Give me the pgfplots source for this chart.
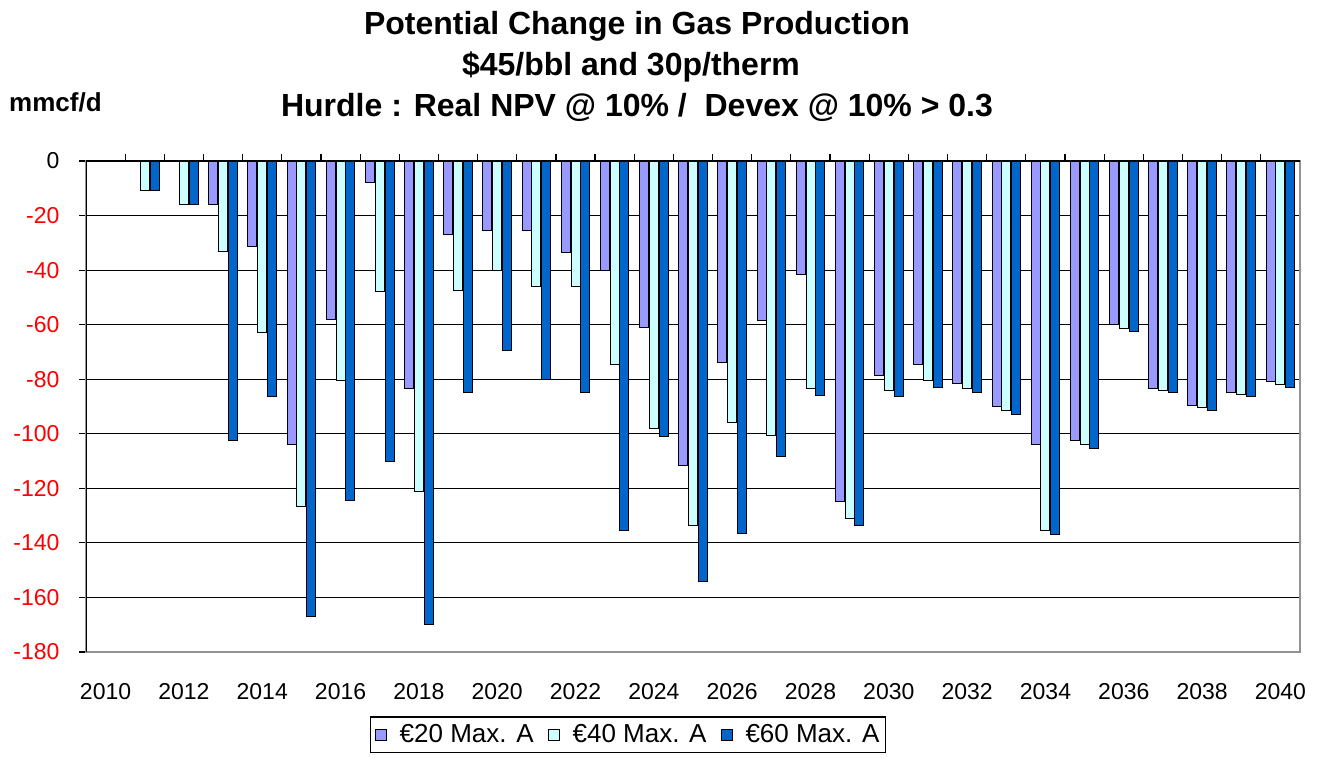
\documentclass[border=0pt]{standalone}
\usepackage{pgfplots}
\pgfplotsset{compat=1.18}
\usepackage{pgfplotstable}
\usepackage{fontspec}
\setmainfont{Liberation Sans}
\definecolor{cPurple}{HTML}{9999FF}
\definecolor{cCyan}{HTML}{CCFFFF}
\definecolor{cBlue}{HTML}{0066CC}
\pgfplotstableread{
year p20 p40 p60
2010 0 0 0
2011 0 -11 -11
2012 0 -16 -16
2013 -16 -33 -102.5
2014 -31.5 -63 -86.5
2015 -104 -126.5 -167
2016 -58 -80.5 -124.5
2017 -8 -48 -110
2018 -83.5 -121 -170
2019 -27 -47.5 -85
2020 -25.5 -40 -69.5
2021 -25.5 -46 -80
2022 -33.5 -46 -85
2023 -40 -74.5 -135.5
2024 -61 -98 -101
2025 -111.5 -133.5 -154
2026 -74 -96 -136.5
2027 -58.5 -100.5 -108.5
2028 -41.5 -83.5 -86
2029 -125 -131 -133.5
2030 -78.5 -84 -86.5
2031 -74.5 -80.5 -83
2032 -81.5 -83.5 -85
2033 -90 -91.5 -93
2034 -104 -135.5 -137
2035 -102.5 -104 -105.5
2036 -60 -61.5 -62.5
2037 -83.5 -84 -85
2038 -89.5 -90.5 -91.5
2039 -85 -85.5 -86.5
2040 -81 -82 -83
}\datatable
\begin{document}
\begin{tikzpicture}[x=1bp,y=1bp]
\path[use as bounding box] (0,0) rectangle (1323,757);
\node[anchor=base,font=\fontsize{32bp}{38bp}\selectfont\bfseries,inner sep=0] at (637,722) {Potential Change in Gas Production};
\node[anchor=base,font=\fontsize{32bp}{38bp}\selectfont\bfseries,inner sep=0] at (631,681) {\$45/bbl and 30p/therm};
\node[anchor=base,font=\fontsize{32bp}{38bp}\selectfont\bfseries,inner sep=0] at (637,640) {Hurdle : Real NPV @ 10\% /\ \ Devex @ 10\% > 0.3};
\node[anchor=base west,font=\fontsize{26bp}{30bp}\selectfont\bfseries,inner sep=0] at (9,645) {mmcf/d};
\begin{axis}[
  at={(86bp,105bp)}, anchor=south west,
  scale only axis, width=1214bp, height=491bp,
  xmin=2009.5, xmax=2040.5, ymin=-180, ymax=0,
  ybar=0.8bp, bar width=9bp,
  xtick={2010,2012,2014,2016,2018,2020,2022,2024,2026,2028,2030,2032,2034,2036,2038,2040},
  xticklabels={2010,2012,2014,2016,2018,2020,2022,2024,2026,2028,2030,2032,2034,2036,2038,2040},
  minor xtick={2010.5,2011.5,...,2039.5},
  xtick pos=top, xticklabel pos=bottom,
  major x tick style={draw=none},
  minor x tick style={black,line width=1.2bp},
  minor tick length=7bp,
  ytick={-180,-160,-140,-120,-100,-80,-60,-40,-20,0},
  yticklabels={{\color{red}-180},{\color{red}-160},{\color{red}-140},{\color{red}-120},{\color{red}-100},{\color{red}-80},{\color{red}-60},{\color{red}-40},{\color{red}-20},0},
  ytick pos=left, ytick align=outside,
  major tick length=7bp,
  y tick style={black,line width=1.2bp},
  ymajorgrids, grid style={black,line width=1.2bp},
  axis line style={draw=gray!85,line width=1.5bp},
  tick label style={font=\fontsize{23bp}{27bp}\selectfont},
  xticklabel style={yshift=-21bp},
  yticklabel style={xshift=-16bp},
  legend columns=3,
  legend style={at={(0.4465,-0.1305)}, anchor=north, draw=black, line width=1.5bp,
    font=\fontsize{26bp}{30bp}\selectfont, inner xsep=4bp, inner ysep=6bp,
    /tikz/every even column/.append style={column sep=12bp},
    /tikz/every odd column/.append style={column sep=0bp}},
  legend image code/.code={\draw[#1,line width=1bp] (0bp,-5.5bp) rectangle (11bp,5.5bp); \path[draw=none,fill=none] (-1bp,0) -- (22bp,0);},
  legend cell align=left,
]
\addplot[fill=cPurple, draw=black, line width=1bp] table[x=year,y=p20] {\datatable};
\addplot[fill=cCyan, draw=black, line width=1bp] table[x=year,y=p40] {\datatable};
\addplot[fill=cBlue, draw=black, line width=1bp] table[x=year,y=p60] {\datatable};
\legend{€20 Max. A,€40 Max. A,€60 Max. A}
\draw[black,line width=1.5bp] (rel axis cs:0,0) -- (rel axis cs:0,1);
\draw[black,line width=1.5bp] (rel axis cs:0,1) -- (rel axis cs:1,1);
\end{axis}
\end{tikzpicture}
\end{document}
